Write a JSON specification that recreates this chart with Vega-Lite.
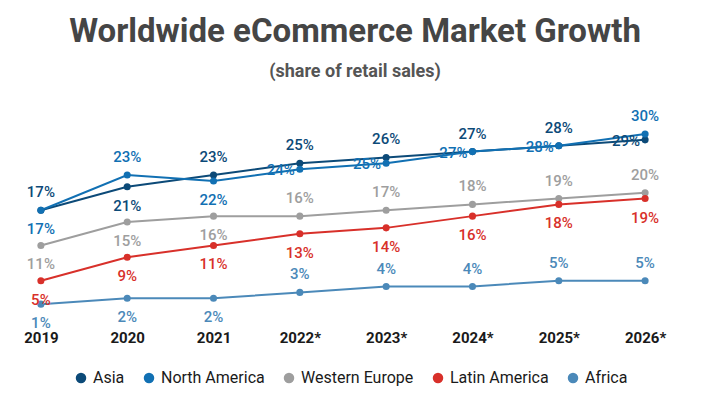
{
  "$schema": "https://vega.github.io/schema/vega-lite/v6.json",
  "width": 656,
  "height": 176,
  "autosize": "none",
  "padding": {"top": 134, "left": 15, "right": 38, "bottom": 86},
  "background": "white",
  "config": {"view": {"stroke": null}, "font": "Roboto"},
  "title": {
    "text": "Worldwide eCommerce Market Growth",
    "subtitle": "(share of retail sales)",
    "fontSize": 33,
    "fontWeight": "bold",
    "color": "#454545",
    "subtitleFontSize": 18,
    "subtitleFontWeight": "bold",
    "subtitleColor": "#555555",
    "subtitlePadding": 14,
    "anchor": "middle",
    "dx": 12,
    "offset": 28,
    "font": "Roboto",
    "subtitleFont": "Roboto"
  },
  "data": {
    "values": [
      {"year": "2019", "series": "Asia", "value": 17},
      {"year": "2020", "series": "Asia", "value": 21},
      {"year": "2021", "series": "Asia", "value": 23},
      {"year": "2022*", "series": "Asia", "value": 25},
      {"year": "2023*", "series": "Asia", "value": 26},
      {"year": "2024*", "series": "Asia", "value": 27},
      {"year": "2025*", "series": "Asia", "value": 28},
      {"year": "2026*", "series": "Asia", "value": 29},
      {"year": "2019", "series": "North America", "value": 17},
      {"year": "2020", "series": "North America", "value": 23},
      {"year": "2021", "series": "North America", "value": 22},
      {"year": "2022*", "series": "North America", "value": 24},
      {"year": "2023*", "series": "North America", "value": 25},
      {"year": "2024*", "series": "North America", "value": 27},
      {"year": "2025*", "series": "North America", "value": 28},
      {"year": "2026*", "series": "North America", "value": 30},
      {"year": "2019", "series": "Western Europe", "value": 11},
      {"year": "2020", "series": "Western Europe", "value": 15},
      {"year": "2021", "series": "Western Europe", "value": 16},
      {"year": "2022*", "series": "Western Europe", "value": 16},
      {"year": "2023*", "series": "Western Europe", "value": 17},
      {"year": "2024*", "series": "Western Europe", "value": 18},
      {"year": "2025*", "series": "Western Europe", "value": 19},
      {"year": "2026*", "series": "Western Europe", "value": 20},
      {"year": "2019", "series": "Latin America", "value": 5},
      {"year": "2020", "series": "Latin America", "value": 9},
      {"year": "2021", "series": "Latin America", "value": 11},
      {"year": "2022*", "series": "Latin America", "value": 13},
      {"year": "2023*", "series": "Latin America", "value": 14},
      {"year": "2024*", "series": "Latin America", "value": 16},
      {"year": "2025*", "series": "Latin America", "value": 18},
      {"year": "2026*", "series": "Latin America", "value": 19},
      {"year": "2019", "series": "Africa", "value": 1},
      {"year": "2020", "series": "Africa", "value": 2},
      {"year": "2021", "series": "Africa", "value": 2},
      {"year": "2022*", "series": "Africa", "value": 3},
      {"year": "2023*", "series": "Africa", "value": 4},
      {"year": "2024*", "series": "Africa", "value": 4},
      {"year": "2025*", "series": "Africa", "value": 5},
      {"year": "2026*", "series": "Africa", "value": 5}
    ]
  },
  "transform": [
    {"calculate": "datum.value + '%'", "as": "label"},
    {"calculate": "((datum.series=='Asia' && datum.year=='2026*') || (datum.series=='North America' && indexof(['2022*','2023*','2024*','2025*'], datum.year) >= 0)) ? 'left' : (((datum.series=='Asia' && datum.year!='2020') || (datum.series=='North America' && (datum.year=='2020' || datum.year=='2026*')) || ((datum.series=='Western Europe' || datum.series=='Africa') && indexof(['2019','2020','2021'], datum.year) < 0)) ? 'above' : 'below')", "as": "place"}
  ],
  "encoding": {
    "x": {
      "field": "year",
      "type": "ordinal",
      "sort": ["2019", "2020", "2021", "2022*", "2023*", "2024*", "2025*", "2026*"],
      "scale": {"type": "point", "padding": 0.3},
      "axis": {
        "title": null,
        "labelAngle": 0,
        "domain": false,
        "ticks": false,
        "grid": false,
        "labelFont": "Roboto",
        "labelFontSize": 15,
        "labelFontWeight": "bold",
        "labelColor": "#1a1a1a",
        "labelPadding": 20
      }
    },
    "y": {
      "field": "value",
      "type": "quantitative",
      "scale": {"domain": [0, 30], "nice": false, "zero": true},
      "axis": null
    },
    "color": {
      "field": "series",
      "type": "nominal",
      "scale": {
        "domain": ["Asia", "North America", "Western Europe", "Latin America", "Africa"],
        "range": ["#0c4a78", "#1170b3", "#9e9e9e", "#d8302a", "#4b89b9"]
      },
      "legend": {
        "orient": "none",
        "legendX": 58,
        "legendY": 236,
        "direction": "horizontal",
        "title": null,
        "symbolType": "circle",
        "symbolSize": 110,
        "symbolOpacity": 1,
        "labelFont": "Roboto",
        "labelFontSize": 16,
        "labelColor": "#1a1a1a",
        "columnPadding": 16,
        "symbolStrokeWidth": 0
      }
    }
  },
  "layer": [
    {"mark": {"type": "line", "strokeWidth": 2}},
    {"mark": {"type": "point", "filled": true, "size": 50, "opacity": 1}},
    {
      "transform": [{"filter": "datum.place == 'above'"}],
      "mark": {"type": "text", "dy": -18, "fontSize": 15, "fontWeight": 500, "font": "Roboto"},
      "encoding": {"text": {"field": "label"}}
    },
    {
      "transform": [{"filter": "datum.place == 'below'"}],
      "mark": {"type": "text", "dy": 19, "fontSize": 15, "fontWeight": 500, "font": "Roboto"},
      "encoding": {"text": {"field": "label"}}
    },
    {
      "transform": [{"filter": "datum.place == 'left'"}],
      "mark": {"type": "text", "dx": -5, "dy": 1, "align": "right", "fontSize": 15, "fontWeight": 500, "font": "Roboto"},
      "encoding": {"text": {"field": "label"}}
    }
  ]
}
